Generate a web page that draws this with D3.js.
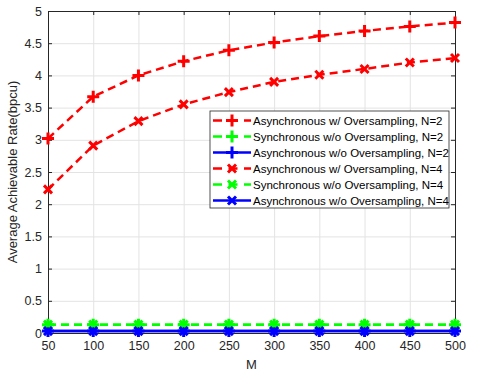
<!DOCTYPE html>
<html>
<head>
<meta charset="utf-8">
<script src="https://cdn.jsdelivr.net/npm/d3@7"></script>
<style>
  body { margin: 0; background: #fff; }
  svg { font-family: "Liberation Sans", Arial, sans-serif; }
  .tick text { font-size: 12.5px; fill: #262626; }
  .grid line { stroke: #e3e3e3; }
</style>
</head>
<body>
<svg width="484" height="376"></svg>
<script>
// valores
const mValues = [50, 100, 150, 200, 250, 300, 350, 400, 450, 500];
const asyncOverN2 = [3.02, 3.67, 4.0, 4.22, 4.39, 4.51, 4.61, 4.69, 4.76, 4.82];
const syncNoOverN2 = [0.13, 0.13, 0.13, 0.13, 0.13, 0.13, 0.13, 0.13, 0.13, 0.13];
const asyncNoOverN2 = [0.03, 0.03, 0.03, 0.03, 0.03, 0.03, 0.03, 0.03, 0.03, 0.03];
const asyncOverN4 = [2.23, 2.91, 3.29, 3.55, 3.74, 3.9, 4.01, 4.1, 4.2, 4.27];
const syncNoOverN4 = [0.13, 0.13, 0.13, 0.13, 0.13, 0.13, 0.13, 0.13, 0.13, 0.13];
const asyncNoOverN4 = [0.03, 0.03, 0.03, 0.03, 0.03, 0.03, 0.03, 0.03, 0.03, 0.03];
const yTicks = [0, 0.5, 1, 1.5, 2, 2.5, 3, 3.5, 4, 4.5, 5];
const seriesNames = [
  'Asynchronous w/ Oversampling, N=2',
  'Synchronous w/o Oversampling, N=2',
  'Asynchronous w/o Oversampling, N=2',
  'Asynchronous w/ Oversampling, N=4',
  'Synchronous w/o Oversampling, N=4',
  'Asynchronous w/o Oversampling, N=4'
];

const series = [
  { name: seriesNames[0], values: asyncOverN2, color: '#ff0000', dash: '8,5', marker: 'plus' },
  { name: seriesNames[1], values: syncNoOverN2, color: '#00ff00', dash: '8,5', marker: 'plus' },
  { name: seriesNames[2], values: asyncNoOverN2, color: '#0000ff', dash: null, marker: 'plus' },
  { name: seriesNames[3], values: asyncOverN4, color: '#ff0000', dash: '8,5', marker: 'cross' },
  { name: seriesNames[4], values: syncNoOverN4, color: '#00ff00', dash: '8,5', marker: 'cross' },
  { name: seriesNames[5], values: asyncNoOverN4, color: '#0000ff', dash: null, marker: 'cross' }
];

const svg = d3.select('svg');
const mLeft = 48, mRight = 455, mTop = 11, mBottom = 333;

const x = d3.scaleLinear().domain([50, 500]).range([mLeft, mRight]);
const y = d3.scaleLinear().domain([0, 5]).range([mBottom, mTop]);

// rejilla
svg.append('g')
  .attr('class', 'grid')
  .attr('transform', `translate(0, ${mBottom})`)
  .call(d3.axisBottom(x).tickValues(mValues).tickSize(-(mBottom - mTop)).tickFormat(''))
  .call(g => g.select('.domain').remove());
svg.append('g')
  .attr('class', 'grid')
  .attr('transform', `translate(${mLeft}, 0)`)
  .call(d3.axisLeft(y).tickValues(yTicks).tickSize(-(mRight - mLeft)).tickFormat(''))
  .call(g => g.select('.domain').remove());

// ejes
const axisColor = '#262626';
svg.append('g')
  .attr('transform', `translate(0, ${mBottom})`)
  .call(d3.axisBottom(x).tickValues(mValues).tickSize(-4).tickPadding(8))
  .call(g => g.selectAll('line, path').attr('stroke', axisColor));
svg.append('g')
  .attr('transform', `translate(0, ${mTop})`)
  .call(d3.axisTop(x).tickValues(mValues).tickSize(-4).tickFormat(''))
  .call(g => g.selectAll('line, path').attr('stroke', axisColor));
svg.append('g')
  .attr('transform', `translate(${mLeft}, 0)`)
  .call(d3.axisLeft(y).tickValues(yTicks).tickSize(-4).tickPadding(6).tickFormat(d3.format('')))
  .call(g => g.selectAll('line, path').attr('stroke', axisColor));
svg.append('g')
  .attr('transform', `translate(${mRight}, 0)`)
  .call(d3.axisRight(y).tickValues(yTicks).tickSize(-4).tickFormat(''))
  .call(g => g.selectAll('line, path').attr('stroke', axisColor));

const line = d3.line()
  .x((d, i) => x(mValues[i]))
  .y(d => y(d));

function drawMarker(g, type, cx, cy, color) {
  const s = 6, c = 4;
  const path = type === 'plus'
    ? `M${cx - s},${cy}H${cx + s}M${cx},${cy - s}V${cy + s}`
    : `M${cx - c},${cy - c}L${cx + c},${cy + c}M${cx - c},${cy + c}L${cx + c},${cy - c}`;
  g.append('path')
    .attr('d', path)
    .attr('stroke', color)
    .attr('stroke-width', 3)
    .attr('fill', 'none');
}

const plot = svg.append('g');
series.forEach(s => {
  plot.append('path')
    .datum(s.values)
    .attr('d', line)
    .attr('fill', 'none')
    .attr('stroke', s.color)
    .attr('stroke-width', 2.5)
    .attr('stroke-dasharray', s.dash);
  s.values.forEach((v, i) => drawMarker(plot, s.marker, x(mValues[i]), y(v), s.color));
});

// leyenda
const legend = svg.append('g').attr('transform', 'translate(210, 111)');
legend.append('rect')
  .attr('width', 239)
  .attr('height', 97)
  .attr('fill', '#fff')
  .attr('stroke', '#262626')
  .attr('stroke-width', 0.8);
series.forEach((s, i) => {
  const ly = 9.5 + i * 16;
  legend.append('line')
    .attr('x1', 3).attr('x2', 41)
    .attr('y1', ly).attr('y2', ly)
    .attr('stroke', s.color)
    .attr('stroke-width', 2.5)
    .attr('stroke-dasharray', s.dash ? '9,6.5' : null);
  drawMarker(legend, s.marker, 22, ly, s.color);
  legend.append('text')
    .attr('x', 43)
    .attr('y', ly + 4)
    .attr('font-size', '11.5px')
    .attr('fill', '#000')
    .text(s.name);
});

// etiquetas
svg.append('text')
  .attr('x', (mLeft + mRight) / 2)
  .attr('y', 369)
  .attr('text-anchor', 'middle')
  .attr('font-size', '13px')
  .attr('fill', axisColor)
  .text('M');

svg.append('text')
  .attr('transform', `translate(17, ${(mTop + mBottom) / 2}) rotate(-90)`)
  .attr('text-anchor', 'middle')
  .attr('font-size', '13px')
  .attr('fill', axisColor)
  .text('Average Achievable Rate(bpcu)');
</script>
</body>
</html>
